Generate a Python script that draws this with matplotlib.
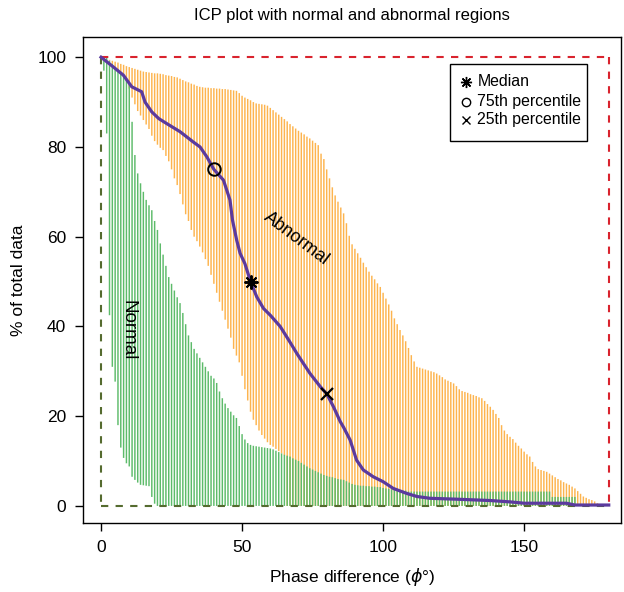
import numpy as np
import matplotlib
matplotlib.use("Agg")
import matplotlib.pyplot as plt
from matplotlib.patches import Rectangle

plt.rcParams["font.family"] = ["Liberation Sans", "DejaVu Sans"]

# one vertical bar per degree, 0..180
PHASE = np.arange(0, 181)

# normal region (green): lower and upper ends of each bar
NORMAL_LO = [
    100, 97, 83, 42.5, 31, 27.7, 18, 13, 10.7, 9.5, 8.8, 6.5, 5.8, 5.2, 4.7, 4.6, 4.5, 4.4, 2, 0.5,
] + [0] * 161
NORMAL_HI = [
    100, 100, 100, 99.2, 98.5, 97.8, 97.2, 96.7, 96, 95.2,
    93.8, 85.6, 78.2, 74.1, 71.9, 70, 68.2, 67, 65.9, 63.5,
    61.5, 58.5, 56, 53.5, 51, 49.5, 48, 46.5, 45.2, 43,
    40.5, 38, 36.5, 35, 34, 33, 32, 31, 30, 29,
    28.4, 27.4, 25.5, 24, 22.8, 21.8, 21, 20.2, 19.6, 17.8,
    16, 14.8, 14, 13.6, 13.4, 13.3, 13.2, 13.1, 13, 12.9,
    12.8, 12.6, 12.3, 12, 11.7, 11.4, 11.2, 11, 10.6, 10.3,
    10, 9.6, 9.2, 8.8, 8.4, 8.1, 7.8, 7.5, 7.2, 6.9,
    6.7, 6.5, 6.4, 6.2, 6, 5.9, 5.8, 5.5, 5.2, 4.9,
    4.7, 4.6, 4.5, 4.5, 4.4, 4.4, 4.3, 4.3, 4.2, 4.2,
    4.0, 3.9, 3.8, 3.7, 3.6, 3.5, 3.5, 3.4, 3.4, 3.2,
    3.2, 3.2, 3.2, 3.2, 3.2, 3.2, 3.2, 3.2, 3.2, 3.2,
    3.2, 3.2, 3.2, 3.2, 3.2, 3.2, 3.2, 3.2, 3.2, 3.2,
    3.2, 3.2, 3.2, 3.2, 3.2, 3.2, 3.2, 3.2, 3.2, 3.2,
    3.2, 3.2, 3.2, 3.2, 3.2, 3.2, 3.2, 3.2, 3.2, 3.2,
    3.2, 3.2, 3.2, 3.2, 3.2, 3.2, 3.2, 3.2, 3.2, 3.2,
    2, 2, 2, 2, 2, 2, 2, 2, 2, 0,
    0, 0, 0, 0, 0, 0, 0, 0, 0, 0,
    0,
]

# abnormal region (orange): lower and upper ends of each bar
ABNORMAL_LO = [
    100, 99.8, 99.6, 99.2, 98.5, 97.8, 97.2, 96.7, 96, 95.2,
    93, 91, 89.5, 88, 87, 86, 85, 84, 82.5, 81.3,
    80.5, 79.8, 79.3, 78, 76.8, 75, 73, 71.5, 69.5, 67.2,
    65, 63.5, 61.5, 60, 59, 57.8, 56.5, 55, 53.5, 51.5,
    49.5, 47.5, 45.5, 43.5, 41.5, 39.5, 37.5, 35, 33.5, 32,
    29, 26, 23.5, 21, 19.2, 18, 16.8, 15.8, 15, 14.2,
    13.6, 13.2, 12.7, 12.2, 11.7, 11.3,
] + [0] * 115
ABNORMAL_HI = [
    100, 99.8, 99.6, 99.4, 99.2, 99, 98.8, 98.5, 98.3, 98,
    97.8, 97.6, 97.4, 97.2, 97, 96.8, 96.7, 96.6, 96.5, 96.4,
    96.4, 96.3, 96.2, 96, 95.9, 95.8, 95.6, 95.5, 95.2, 94.9,
    94.6, 94.4, 94.1, 93.9, 93.6, 93.4, 93.3, 93.2, 93.2, 93.1,
    93.1, 93, 93, 92.9, 92.9, 92.8, 92.7, 92.6, 92.5, 92,
    91.4, 91, 90.7, 90.4, 90, 89.7, 89.6, 89.5, 89.4, 89.2,
    88.7, 88.2, 87.7, 87.2, 86.7, 86.2, 85.7, 85.1, 84.6, 84.1,
    83.6, 83.2, 82.8, 82.3, 81.9, 81.4, 80.9, 80.4, 78.5, 77.3,
    75, 73, 71, 69.2, 67.8, 66.5, 65.2, 63, 60.2, 58.3,
    57.3, 56.3, 55.3, 54.2, 53.2, 52.2, 51.3, 50.5, 49.6, 48.8,
    47.5, 46.2, 44.9, 43.5, 41.8, 40.5, 39.2, 38, 36.7, 35.2,
    33.6, 32.2, 31, 30.8, 30.6, 30.4, 30.2, 30, 29.8, 29.5,
    29.1, 28.7, 28.2, 27.9, 27.6, 27.3, 26.7, 26, 25.6, 25.4,
    25.2, 24.9, 24.7, 24.5, 24.2, 24, 23.4, 22.7, 22.1, 21.4,
    20.5, 19.6, 18, 16.8, 16, 15.4, 14.9, 14.1, 13.4, 12.8,
    12.1, 11.5, 11, 9.8, 8.8, 8.2, 8, 7.8, 7.6, 7.2,
    6.8, 6.4, 6, 5.7, 5.3, 5, 4.7, 4.3, 3.9, 3.3,
    2.7, 2.1, 1.8, 1.5, 1.3, 1, 0.6, 0.4, 0.2, 0,
    0,
]

# median curve
MED_X = [0, 2, 4.4, 7.9, 10.9, 14.4, 15.6, 18, 20.5, 23.3, 28, 32.7, 35.1, 37.5, 40,
         43.4, 45.7, 46.6, 48.1, 49.3, 51, 53, 55.2, 57.6, 60, 63.5, 66.5, 69.4, 72,
         74.1, 77.7, 80, 82.4, 84.8, 86, 88.3, 90.6, 93, 96.5, 100, 103.6, 108.3, 112,
         116.6, 126, 138, 145, 150, 165, 168, 180]
MED_Y = [100, 99, 97.8, 96, 93.4, 92.3, 90, 87.8, 86.3, 85.2, 83.4, 81.1, 80, 77.8, 75,
         72.6, 68.2, 63.7, 59.2, 56.3, 54, 50, 46.6, 44, 42.5, 40, 37, 34, 31.5,
         29.5, 26.6, 25, 22.1, 18.8, 17.5, 14.7, 10.2, 8, 6.5, 5.4, 3.9, 2.8, 2.1,
         1.7, 1.5, 1.2, 0.9, 0.6, 0.6, 0.2, 0.2]

# percentile points
PCT_LABELS = ["Median", "75th percentile", "25th percentile"]
PCT_X = [53, 40, 80]
PCT_Y = [50, 75, 25]

ORANGE = "#FDB44E"
GREEN = "#5DBB6A"
PURPLE = "#5B3A9E"

fig = plt.figure(figsize=(6.24, 5.92), dpi=100)
ax = fig.add_axes([0.133, 0.1166, 0.862, 0.8209])

olo = np.array(ABNORMAL_LO, dtype=float)
ohi = np.array(ABNORMAL_HI, dtype=float)
m = ohi > olo
ax.vlines(PHASE[m], olo[m], ohi[m], color=ORANGE, lw=1.05, zorder=2, snap=False)

nlo = np.array(NORMAL_LO, dtype=float)
nhi = np.array(NORMAL_HI, dtype=float)
m = nhi > nlo
ax.vlines(PHASE[m], nlo[m], nhi[m], color=GREEN, lw=1.05, zorder=3, snap=False)

# region outlines
dash = (0, (3.5, 3.5))
ax.plot([0, 180], [100, 100], color="#D9232E", lw=1.5, ls=dash, zorder=4)
ax.plot([180, 180], [100, 0], color="#D9232E", lw=1.5, ls=dash, zorder=4)
ax.plot([0, 0], [100, 0], color="#556B2F", lw=1.5, ls=dash, zorder=4)
ax.plot([0, 180], [0, 0], color="#556B2F", lw=1.5, ls=dash, zorder=4)

ax.plot(MED_X, MED_Y, color=PURPLE, lw=2.3, zorder=5, solid_joinstyle="round")

markers = [dict(marker=(8, 2, 0), ms=10, mew=1.4),
           dict(marker="o", ms=9, mew=1.4, mfc="none"),
           dict(marker="x", ms=9, mew=1.6)]
for x, y, mk in zip(PCT_X, PCT_Y, markers):
    ax.plot([x], [y], color="black", ls="none", zorder=6, **mk)

# legend box drawn by hand (R-style key)
ax.add_patch(Rectangle((0.682, 0.787), 0.255, 0.158, transform=ax.transAxes,
                       fill=True, facecolor="white", edgecolor="black", lw=1.0, zorder=8))
key_y = [0.908, 0.867, 0.830]
key_mk = [dict(marker=(8, 2, 0), ms=8, mew=1.0),
          dict(marker="o", ms=6, mew=1.0, mfc="none"),
          dict(marker="x", ms=6, mew=1.0)]
for ky, lab, mk in zip(key_y, PCT_LABELS, key_mk):
    ax.plot([0.712], [ky], transform=ax.transAxes, color="black", ls="none",
            zorder=9, **mk)
    ax.text(0.733, ky, lab, transform=ax.transAxes, ha="left", va="center",
            fontsize=11.4, zorder=9)

ax.text(9.6, 39.2, "Normal", rotation=-90, ha="center", va="center", fontsize=13.5, zorder=7)
ax.text(69.3, 59.6, "Abnormal", rotation=-37, ha="center", va="center", fontsize=13,
        rotation_mode="anchor", zorder=7)

ax.set_xlim(-6.4, 184.3)
ax.set_ylim(-3.8, 104.5)
ax.set_xticks([0, 50, 100, 150])
ax.set_yticks([0, 20, 40, 60, 80, 100])
ax.tick_params(direction="out", length=6, width=1, labelsize=12.5, pad=6)
for s in ax.spines.values():
    s.set_linewidth(1.0)

ax.set_xlabel(r"Phase difference ($\phi$°)", fontsize=12.5, labelpad=8)
ax.set_ylabel("% of total data", fontsize=12.5, labelpad=8)
ax.set_title("ICP plot with normal and abnormal regions", fontsize=12, pad=12)

fig.savefig("out.png", dpi=100)
